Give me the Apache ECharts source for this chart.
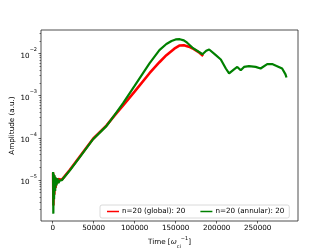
<!DOCTYPE html>
<html>
<head>
<meta charset="utf-8">
<script src="https://cdn.jsdelivr.net/npm/echarts@6/dist/echarts.min.js"></script>
<style>
  html, body { margin: 0; padding: 0; background: #fff; }
  #main { width: 332px; height: 249px; }
</style>
</head>
<body>
<div id="main"></div>
<script>
// values (time in 1/omega_ci, amplitude in a.u.)
var globalTime = [500, 900, 1400, 2000, 2700, 3500, 4500, 5600, 7000, 9000, 11300, 21000, 33100, 49300,
  65500, 75600, 85700, 99900, 118100, 130200, 138700, 148400, 155000, 160000, 166000, 170300, 178000, 183600];
var globalAmp = [1.5e-5, 2.5e-6, 1.3e-5, 4.5e-6, 1.2e-5, 6.5e-6, 1.1e-5, 8.5e-6, 1.05e-5, 9.6e-6, 1.02e-5, 1.75e-5, 3.6e-5, 9.5e-5,
  1.95e-4, 3.4e-4, 5.8e-4, 1.25e-3, 3.4e-3, 6.2e-3, 9.1e-3, 1.3e-2, 1.55e-2, 1.57e-2, 1.45e-2, 1.33e-2, 1.08e-2, 8.7e-3];

var annularTime = [500, 800, 1200, 1700, 2300, 3000, 3800, 4700, 5700, 7000, 8800, 11300, 21000, 33100, 49300,
  65500, 75600, 85700, 99900, 118100, 130200, 138700, 145000, 150000, 155000, 160000, 164000, 170300, 182800, 187300, 190900,
  199000, 205100, 211200, 215200, 221200, 225200, 229400, 233400, 239400, 247600, 253600, 255600, 261700,
  267700, 273800, 279900, 284000, 285200];
var annularAmp = [1.56e-5, 1.6e-6, 1.4e-5, 3.5e-6, 1.3e-5, 5.5e-6, 1.15e-5, 7.5e-6, 1.1e-5, 8.5e-6, 9.8e-6, 1.0e-5, 1.7e-5, 3.5e-5, 9.3e-5,
  1.9e-4, 3.5e-4, 6.6e-4, 1.7e-3, 5.8e-3, 1.2e-2, 1.68e-2, 1.98e-2, 2.15e-2, 2.18e-2, 2.05e-2, 1.8e-2, 1.38e-2, 9.6e-3, 1.16e-2, 1.24e-2,
  9.1e-3, 7.2e-3, 4.4e-3, 3.36e-3, 4.2e-3, 4.8e-3, 4.0e-3, 4.8e-3, 5.0e-3, 4.8e-3, 4.4e-3, 4.2e-3, 5.6e-3,
  5.6e-3, 5.0e-3, 4.4e-3, 3.2e-3, 2.7e-3];

var seriesNames = ['n=20 (global): 20', 'n=20 (annular): 20'];
var xTicks = [0, 50000, 100000, 150000, 200000, 250000];
var yTicks = [1e-5, 1e-4, 1e-3, 1e-2];

// minor log ticks 2..9 x 10^n
var yMinorTicks = [];
for (var e = -6; e <= -2; e++) {
  for (var m = 2; m <= 9; m++) {
    var v = m * Math.pow(10, e);
    if (v > 1.07e-6 && v < 0.036) yMinorTicks.push(v);
  }
}

function pairs(t, a) {
  return t.map(function (x, i) { return [x, a[i]]; });
}

var font = 'DejaVu Sans';
var chart = echarts.init(document.getElementById('main'));

var option = {
  animation: false,
  grid: {
    left: 41, right: 34, top: 30, bottom: 28,
    show: true, borderColor: '#222', borderWidth: 0.8,
    outerBoundsMode: 'none'
  },
  legend: {
    left: 100, top: 205,
    data: seriesNames,
    icon: 'rect',
    itemWidth: 12, itemHeight: 1.5, itemGap: 15,
    padding: [3, 5, 3, 7],
    borderColor: '#d0d0d0', borderWidth: 0.8, borderRadius: 2,
    backgroundColor: 'rgba(255,255,255,0.8)',
    textStyle: { fontFamily: font, fontSize: 7.2, color: '#000', padding: [0, 0, 0, -2] }
  },
  xAxis: {
    type: 'value',
    min: -14250, max: 299250,
    splitLine: { show: false },
    axisLine: { show: false, onZero: false },
    axisTick: { show: true, inside: false, length: 2.5, customValues: xTicks, lineStyle: { color: '#000', width: 0.6 } },
    axisLabel: {
      customValues: xTicks, margin: 3.5, fontFamily: font, fontSize: 7.2, color: '#000',
      formatter: function (v) { return String(v); }
    },
    name: 'Time [{w|ω}{sub|ci}{sup|−1}]',
    nameLocation: 'middle', nameGap: 15, nameMoveOverlap: false,
    nameTextStyle: {
      fontFamily: font, fontSize: 7.2, color: '#000',
      rich: {
        w: { fontFamily: font, fontSize: 7.2, fontStyle: 'italic', color: '#000' },
        sub: { fontFamily: font, fontSize: 5, color: '#000', verticalAlign: 'bottom', lineHeight: 13 },
        sup: { fontFamily: font, fontSize: 5, color: '#000', verticalAlign: 'top', lineHeight: 13 }
      }
    }
  },
  yAxis: [{
    type: 'log',
    logBase: 10,
    min: 1.07e-6, max: 0.036,
    splitLine: { show: false },
    axisLine: { show: false, onZero: false },
    axisTick: { show: true, length: 2.5, customValues: yTicks, lineStyle: { color: '#000', width: 0.6 } },
    axisLabel: {
      customValues: yTicks, margin: 4,
      formatter: function (v) {
        var ex = Math.round(Math.log10(v));
        return '{b|10}{s|−' + Math.abs(ex) + '}';
      },
      rich: {
        b: { fontFamily: font, fontSize: 7.2, color: '#000', lineHeight: 12, verticalAlign: 'bottom' },
        s: { fontFamily: font, fontSize: 5, color: '#000', lineHeight: 12, verticalAlign: 'top' }
      }
    },
    name: 'Amplitude (a.u.)',
    nameLocation: 'middle', nameGap: 25, nameMoveOverlap: false,
    nameTextStyle: { fontFamily: font, fontSize: 7.2, color: '#000' }
  }, {
    type: 'log',
    logBase: 10,
    position: 'left',
    min: 1.07e-6, max: 0.036,
    splitLine: { show: false },
    axisLine: { show: false, onZero: false },
    axisLabel: { show: false },
    axisTick: { show: true, length: 1.5, customValues: yMinorTicks, lineStyle: { color: '#000', width: 0.5 } }
  }],
  series: [{
    name: seriesNames[0],
    type: 'line',
    data: pairs(globalTime, globalAmp),
    showSymbol: false, symbol: 'none',
    itemStyle: { color: '#ff0000' },
    lineStyle: { color: '#ff0000', width: 2.6 }
  }, {
    name: seriesNames[1],
    type: 'line',
    data: pairs(annularTime, annularAmp),
    showSymbol: false, symbol: 'none',
    itemStyle: { color: '#008000' },
    lineStyle: { color: '#008000', width: 2.2 }
  }]
};

chart.setOption(option);
</script>
</body>
</html>
